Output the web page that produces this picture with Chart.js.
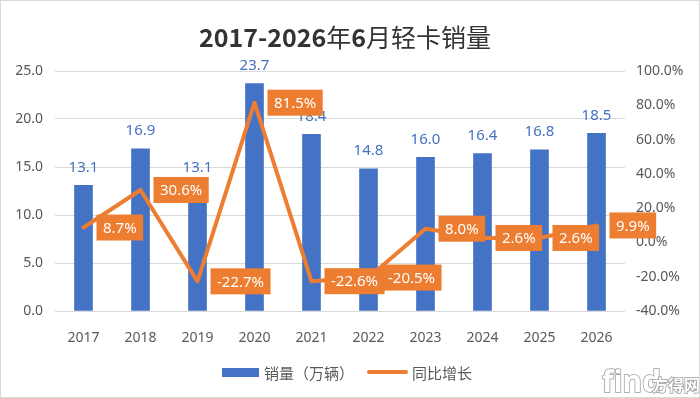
<!DOCTYPE html>
<html>
<head>
<meta charset="utf-8">
<script src="https://cdn.jsdelivr.net/npm/chart.js@4"></script>
<style>
  html, body { margin: 0; padding: 0; background: #fff; }
  #wrap { width: 700px; height: 398px; position: relative; }
</style>
</head>
<body>
<div id="wrap"><canvas id="c" width="700" height="398"></canvas></div>
<script>
// chart data
var years = ['2017', '2018', '2019', '2020', '2021', '2022', '2023', '2024', '2025', '2026'];
var sales = [13.1, 16.9, 13.1, 23.7, 18.4, 14.8, 16.0, 16.4, 16.8, 18.5];
var growth = [8.7, 30.6, -22.7, 81.5, -22.6, -20.5, 8.0, 2.6, 2.6, 9.9];
var titleText = '2017-2026年6月轻卡销量';
var salesLabel = '销量（万辆）';
var growthLabel = '同比增长';

var BLUE = '#4472C4';
var ORANGE = '#ED7D31';
var GREY = '#595959';
var FONT = '"Noto Sans", "Noto Sans CJK SC", sans-serif';
var CJK = '"Noto Sans CJK SC", "Noto Sans", sans-serif';

// split title so digits are bold and Chinese is regular, like the original
function titleParts(str) {
    var parts = [];
    str.split(/([0-9\-]+)/).forEach(function (s) {
        if (s) parts.push({ text: s, bold: /^[0-9\-]+$/.test(s) });
    });
    return parts;
}

// title, value labels, legend, frame
var decorPlugin = {
    id: 'decor',
    afterDatasetsDraw: function (chart) {
        var ctx = chart.ctx;
        ctx.save();

        // bar value labels
        var barMeta = chart.getDatasetMeta(0);
        ctx.font = '15px ' + FONT;
        ctx.fillStyle = BLUE;
        ctx.textAlign = 'center';
        ctx.textBaseline = 'middle';
        barMeta.data.forEach(function (bar, i) {
            ctx.fillText(sales[i].toFixed(1), bar.x, bar.y - 18);
        });

        // growth labels in orange boxes
        var lineMeta = chart.getDatasetMeta(1);
        lineMeta.data.forEach(function (pt, i) {
            var txt = growth[i].toFixed(1) + '%';
            var w = ctx.measureText(txt).width + 13;
            var h = 26;
            var x0 = pt.x + 13;
            var y0 = pt.y - h / 2;
            ctx.fillStyle = ORANGE;
            ctx.fillRect(x0, y0, w, h);
            ctx.fillStyle = '#fff';
            ctx.textAlign = 'left';
            ctx.fillText(txt, x0 + 6.5, pt.y + 1);
        });
        ctx.restore();
    },
    afterDraw: function (chart) {
        var ctx = chart.ctx;
        ctx.save();

        // title
        var parts = titleParts(titleText);
        var total = 0;
        parts.forEach(function (p) {
            ctx.font = (p.bold ? 'bold ' : '') + '25px ' + CJK;
            p.w = ctx.measureText(p.text).width;
            total += p.w;
        });
        var tx = 345 - total / 2;
        ctx.fillStyle = '#333333';
        ctx.textAlign = 'left';
        ctx.textBaseline = 'middle';
        parts.forEach(function (p) {
            ctx.font = (p.bold ? 'bold ' : '') + '25px ' + CJK;
            ctx.fillText(p.text, tx, 37);
            tx += p.w;
        });

        // legend
        ctx.fillStyle = BLUE;
        ctx.fillRect(222, 368, 37, 9);
        ctx.font = '15px ' + CJK;
        ctx.fillStyle = GREY;
        ctx.textAlign = 'left';
        ctx.fillText(salesLabel, 264, 373);
        ctx.strokeStyle = ORANGE;
        ctx.lineWidth = 4;
        ctx.lineCap = 'round';
        ctx.beginPath();
        ctx.moveTo(369, 372);
        ctx.lineTo(406, 372);
        ctx.stroke();
        ctx.fillText(growthLabel, 412, 373);

        // watermark
        ctx.font = 'bold 30px ' + FONT;
        ctx.lineWidth = 1.5;
        ctx.strokeStyle = '#9a9a9a';
        ctx.fillStyle = '#ffffff';
        ctx.strokeText('find', 602, 383);
        ctx.fillText('find', 602, 383);
        ctx.font = 'bold 16px ' + CJK;
        ctx.strokeText('方得网', 652, 385);
        ctx.fillText('方得网', 652, 385);

        // frame
        ctx.strokeStyle = '#d9d9d9';
        ctx.lineWidth = 1;
        ctx.strokeRect(0.5, 0.5, 699, 397);
        ctx.restore();
    }
};

new Chart(document.getElementById('c'), {
    type: 'bar',
    data: {
        labels: years,
        datasets: [{
            type: 'bar',
            label: salesLabel,
            data: sales,
            backgroundColor: BLUE,
            yAxisID: 'y',
            barThickness: 18,
            order: 2
        }, {
            type: 'line',
            label: growthLabel,
            data: growth,
            borderColor: ORANGE,
            backgroundColor: ORANGE,
            borderWidth: 4,
            pointRadius: 0,
            tension: 0,
            borderJoinStyle: 'round',
            borderCapStyle: 'round',
            yAxisID: 'y1',
            order: 1
        }]
    },
    options: {
        responsive: false,
        animation: false,
        layout: {
            padding: { top: 71, bottom: 0, left: 0, right: 0 }
        },
        plugins: {
            legend: { display: false },
            title: { display: false },
            tooltip: { enabled: false }
        },
        scales: {
            x: {
                grid: { display: false },
                border: { display: false },
                ticks: { color: GREY, font: { size: 14, family: FONT }, padding: 11 },
                afterFit: function (s) { s.height = 87; }
            },
            y: {
                position: 'left',
                min: 0,
                max: 25,
                grid: { color: '#d9d9d9', drawTicks: false },
                border: { display: false },
                ticks: {
                    stepSize: 5,
                    color: GREY,
                    padding: 12,
                    font: { size: 14, family: FONT },
                    callback: function (v) { return v.toFixed(1); }
                },
                afterFit: function (s) { s.width = 55; }
            },
            y1: {
                position: 'right',
                min: -40,
                max: 100,
                grid: { drawOnChartArea: false, drawTicks: false },
                border: { display: false },
                ticks: {
                    stepSize: 20,
                    color: GREY,
                    padding: 11,
                    font: { size: 14, family: FONT },
                    callback: function (v) { return v.toFixed(1) + '%'; }
                },
                afterFit: function (s) { s.width = 75; }
            }
        }
    },
    plugins: [decorPlugin]
});
</script>
</body>
</html>
